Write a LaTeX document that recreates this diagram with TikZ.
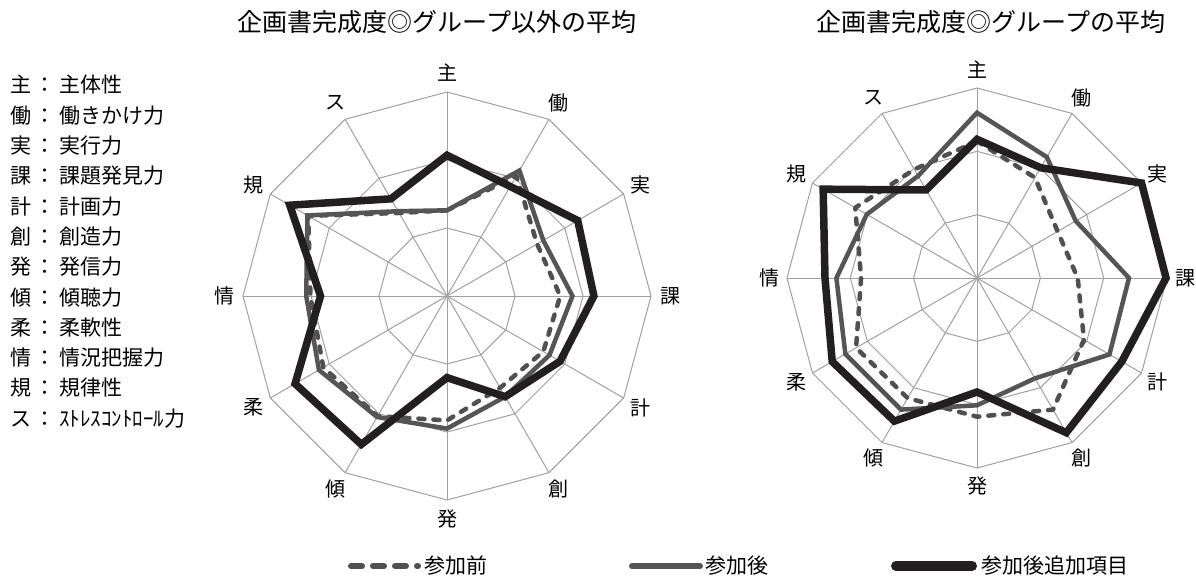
\documentclass[tikz,border=0pt]{standalone}
\usepackage{fontspec}
\setmainfont{Noto Sans CJK JP}
\definecolor{gridc}{HTML}{A0A0A0}
\definecolor{seriesgray}{HTML}{555555}
\definecolor{seriesblack}{HTML}{231F20}
\definecolor{dashc}{HTML}{505050}
% style, radius, first value, remaining 11 values
\newcommand\radarpoly[4]{\draw[#1] (90:{#2*#3}) \foreach \v [count=\i] in {#4} { -- ({90-30*\i}:{#2*\v}) } -- cycle;}
\newcommand\radargrid[1]{%
  \foreach \f in {1,2,3} {\draw[gridline] (90:{#1*\f/3}) \foreach \i in {1,...,11} { -- ({90-30*\i}:{#1*\f/3}) } -- cycle;}
  \foreach \i in {0,...,11} {\draw[gridline] (0,0) -- ({90-30*\i}:#1);}
}
\begin{document}
\begin{tikzpicture}[x=1pt,y=1pt,
  gridline/.style={draw=gridc, line width=1pt},
  predash/.style={draw=dashc, line width=4.5pt, dash pattern=on 6pt off 9pt, line cap=round, line join=round},
  postgray/.style={draw=seriesgray, line width=4.5pt, line join=miter},
  postblack/.style={draw=seriesblack, line width=7.5pt, line join=miter},
  axlab/.style={font=\fontsize{20}{24}\selectfont, inner sep=0pt},
  ttl/.style={font=\fontsize{25}{30}\selectfont, inner sep=0pt},
  lgd/.style={font=\fontsize{21}{25}\selectfont, inner sep=0pt, anchor=west},
]
\fill[white] (0,0) rectangle (1196,-578);
\useasboundingbox (0,0) rectangle (1196,-578);

% ---------- titles ----------
\node[ttl] (titleA) at (437,-22) {企画書完成度◎グループ以外の平均};
\node[ttl] (titleB) at (991,-22) {企画書完成度◎グループの平均};

% ---------- left key ----------
\node[lgd] (k1)  at (10,-85)  {主\kern3pt：\kern4pt主体性};
\node[lgd] (k2)  at (10,-115.3) {働\kern3pt：\kern4pt働きかけ力};
\node[lgd] (k3)  at (10,-145.6) {実\kern3pt：\kern4pt実行力};
\node[lgd] (k4)  at (10,-175.9) {課\kern3pt：\kern4pt課題発見力};
\node[lgd] (k5)  at (10,-206.2) {計\kern3pt：\kern4pt計画力};
\node[lgd] (k6)  at (10,-236.5) {創\kern3pt：\kern4pt創造力};
\node[lgd] (k7)  at (10,-266.8) {発\kern3pt：\kern4pt発信力};
\node[lgd] (k8)  at (10,-297.1) {傾\kern3pt：\kern4pt傾聴力};
\node[lgd] (k9)  at (10,-327.4) {柔\kern3pt：\kern4pt柔軟性};
\node[lgd] (k10) at (10,-357.7) {情\kern3pt：\kern4pt情況把握力};
\node[lgd] (k11) at (10,-388)   {規\kern3pt：\kern4pt規律性};
\node[lgd] (k12) at (10,-418.3) {ス\kern3pt：\kern4ptｽﾄﾚｽｺﾝﾄﾛｰﾙ力};

% ---------- left radar ----------
\begin{scope}[shift={(447,-296)}]
  \radargrid{204}
  \radarpoly{predash}{204}{0.42}{0.68,0.51,0.555,0.545,0.52,0.61,0.68,0.70,0.67,0.785,0.47}
  \radarpoly{postgray}{204}{0.42}{0.71,0.545,0.615,0.58,0.57,0.65,0.685,0.725,0.69,0.79,0.48}
  \radarpoly{postblack}{204}{0.69}{0.62,0.74,0.72,0.64,0.57,0.40,0.84,0.86,0.62,0.89,0.55}
  \foreach \t/\n [count=\i from 0] in {主/shu,働/dou,実/jitsu,課/ka,計/kei,創/sou,発/hatsu,傾/kei2,柔/juu,情/jou,規/ki,ス/su}
    {\node[axlab] (a-\n) at ({90-30*\i}:223) {\t};}
\end{scope}

% ---------- right radar ----------
\begin{scope}[shift={(977,-278)}]
  \radargrid{190}
  \radarpoly{predash}{190}{0.72}{0.61,0.49,0.53,0.65,0.80,0.73,0.73,0.735,0.61,0.74,0.66}
  \radarpoly{postgray}{190}{0.87}{0.735,0.60,0.80,0.805,0.61,0.67,0.80,0.80,0.74,0.67,0.62}
  \radarpoly{postblack}{190}{0.73}{0.67,1.0,0.995,0.88,0.94,0.60,0.87,0.88,0.80,0.935,0.535}
  \foreach \t/\n [count=\i from 0] in {主/shu,働/dou,実/jitsu,課/ka,計/kei,創/sou,発/hatsu,傾/kei2,柔/juu,情/jou,規/ki,ス/su}
    {\node[axlab] (b-\n) at ({90-30*\i}:208) {\t};}
\end{scope}

% ---------- bottom legend ----------
\coordinate (l1a) at (351,-566);
\coordinate (l1b) at (418,-566);
\draw[draw=dashc, line width=6pt, line cap=round, dash pattern=on 11pt off 11pt] (l1a) -- (l1b);
\node[lgd] (l1t) at (424,-566) {参加前};
\coordinate (l2a) at (632,-566);
\coordinate (l2b) at (700,-566);
\draw[draw=seriesgray, line width=6pt, line cap=round] (l2a) -- (l2b);
\node[lgd] (l2t) at (705,-566) {参加後};
\coordinate (l3a) at (896,-566);
\coordinate (l3b) at (972,-566);
\draw[draw=seriesblack, line width=10pt, line cap=round] (l3a) -- (l3b);
\node[lgd] (l3t) at (981,-566) {参加後追加項目};
\end{tikzpicture}
\end{document}
